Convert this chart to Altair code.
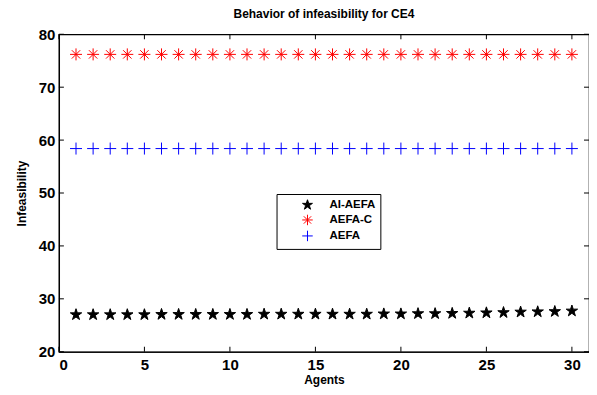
import altair as alt
import pandas as pd

agents = list(range(1, 31))
ai_aefa = [27.0, 27.0, 27.0, 27.0, 27.0, 27.05, 27.05, 27.05, 27.05, 27.05,
           27.05, 27.1, 27.1, 27.1, 27.1, 27.1, 27.1, 27.1, 27.15, 27.15,
           27.2, 27.2, 27.25, 27.3, 27.35, 27.4, 27.5, 27.55, 27.6, 27.7]
aefa_c = [76.2, 76.2, 76.2, 76.2, 76.2, 76.2, 76.2, 76.2, 76.2, 76.2,
          76.2, 76.2, 76.2, 76.2, 76.2, 76.2, 76.2, 76.2, 76.2, 76.2,
          76.2, 76.2, 76.2, 76.2, 76.2, 76.2, 76.2, 76.2, 76.2, 76.2]
aefa = [58.4, 58.4, 58.4, 58.4, 58.4, 58.4, 58.4, 58.4, 58.4, 58.4,
        58.4, 58.4, 58.4, 58.4, 58.4, 58.4, 58.4, 58.4, 58.4, 58.4,
        58.4, 58.4, 58.4, 58.4, 58.4, 58.4, 58.4, 58.4, 58.4, 58.4]
series_names = ["AI-AEFA", "AEFA-C", "AEFA"]
x_ticks = [0, 5, 10, 15, 20, 25, 30]
y_ticks = [20, 30, 40, 50, 60, 70, 80]

rows = []
for name, vals in zip(series_names, [ai_aefa, aefa_c, aefa]):
    for a, v in zip(agents, vals):
        rows.append({"Agents": a, "Infeasibility": v, "series": name})
df = pd.DataFrame(rows)

W, H = 531, 318
STAR = "M0,-1L0.225,-0.309L0.951,-0.309L0.363,0.118L0.588,0.809L0,0.382L-0.588,0.809L-0.363,0.118L-0.951,-0.309L-0.225,-0.309Z"
AST = "M-1,0L1,0M0,-1L0,1M-0.7,-0.7L0.7,0.7M-0.7,0.7L0.7,-0.7"
PLUS = "M-1,0L1,0M0,-1L0,1"

xs = alt.Scale(domain=[0, 31], nice=False)
ys = alt.Scale(domain=[20, 80], nice=False)

points = alt.Chart(df).mark_point(filled=False, size=144, strokeWidth=1, opacity=1).encode(
    x=alt.X("Agents:Q", scale=xs,
            axis=alt.Axis(values=x_ticks, title="Agents", grid=False, ticks=False)),
    y=alt.Y("Infeasibility:Q", scale=ys,
            axis=alt.Axis(values=y_ticks, title="Infeasibility", grid=False, ticks=False)),
    color=alt.Color("series:N", scale=alt.Scale(domain=series_names, range=["black", "#ff0000", "#0000ff"]),
                    legend=alt.Legend(title=None)),
    fill=alt.Fill("series:N", scale=alt.Scale(domain=series_names, range=["black", "transparent", "transparent"]),
                  legend=alt.Legend(title=None)),
    shape=alt.Shape("series:N", scale=alt.Scale(domain=series_names, range=[STAR, AST, PLUS]),
                    legend=alt.Legend(title=None)),
)

xt = pd.DataFrame({"v": x_ticks})
yt = pd.DataFrame({"v": y_ticks})
xb = alt.Chart(xt).mark_rule(color="black", strokeWidth=1).encode(
    x=alt.X("v:Q", scale=xs), y=alt.value(H), y2=alt.value(H - 5))
xtop = alt.Chart(xt).mark_rule(color="black", strokeWidth=1).encode(
    x=alt.X("v:Q", scale=xs), y=alt.value(0), y2=alt.value(5))
yl = alt.Chart(yt).mark_rule(color="black", strokeWidth=1).encode(
    y=alt.Y("v:Q", scale=ys), x=alt.value(0), x2=alt.value(5))
yr = alt.Chart(yt).mark_rule(color="black", strokeWidth=1).encode(
    y=alt.Y("v:Q", scale=ys), x=alt.value(W), x2=alt.value(W - 5))

chart = alt.layer(xb, xtop, yl, yr, points).properties(
    width=W, height=H,
    title=alt.Title("Behavior of infeasibility for CE4", fontSize=12, font="Liberation Sans",
                    fontWeight="bold", anchor="middle", offset=6, color="black"),
    autosize=alt.AutoSizeParams(type="none"),
    padding={"left": 51, "top": 26, "right": 0, "bottom": 35},
).configure_view(
    stroke="black", strokeWidth=1.2
).configure_axis(
    labelFont="Liberation Sans", labelFontSize=15, labelFontWeight="bold", labelColor="black",
    titleFont="Liberation Sans", titleFontSize=12, titleFontWeight="bold", titleColor="black",
    domainColor="black", domainWidth=1.2, labelPadding=4,
).configure_axisX(
    titlePadding=2, labelPadding=6,
).configure_axisY(
    titlePadding=10,
).configure_legend(
    orient="none", legendX=218, legendY=160,
    strokeColor="black", fillColor="white", padding=5,
    labelFont="Liberation Sans", labelFontSize=11.5, labelFontWeight="bold", labelColor="black",
    symbolSize=110, symbolStrokeWidth=1, symbolOffset=20, labelOffset=16, rowPadding=0,
    cornerRadius=0,
)

chart.save("out.html", embed_options={"renderer": "svg", "actions": False})
